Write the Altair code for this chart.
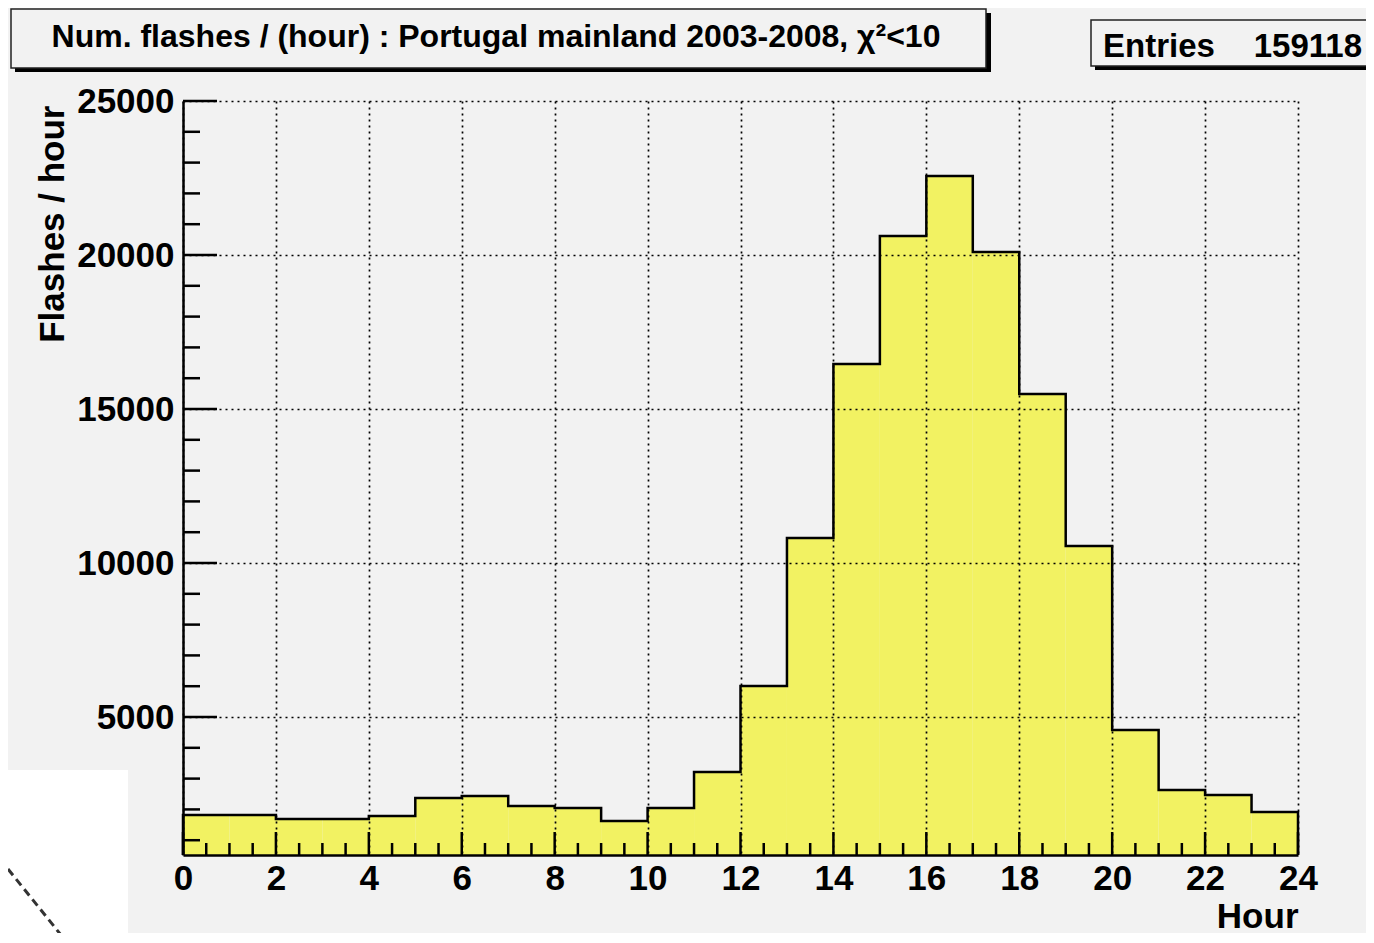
import altair as alt
import pandas as pd

# ---------------- data ----------------
hour_start = list(range(24))
flashes = [1818, 1818, 1690, 1690, 1786, 2370, 2435, 2110, 2045, 1623, 2045, 3214,
           6006, 10812, 16461, 20617, 22565, 20097, 15487, 10552, 4578, 2630, 2468, 1916]
x_major = list(range(0, 25, 2))
x_minor = [i * 0.5 for i in range(49) if i % 4 != 0]
y_major = [5000, 10000, 15000, 20000, 25000]
y_minor = [v for v in range(1000, 25001, 1000) if v % 5000 != 0]
Y_MIN = 520
Y_MAX = 25000
X_MIN = 0
X_MAX = 24
title_text = "Num. flashes / (hour) : Portugal mainland 2003-2008, χ²<10"
entries_label = "Entries"
entries_value = "159118"
x_title = "Hour"
y_title = "Flashes / hour"

# ---------------- style ----------------
W, H = 1115, 754
FONT = "Liberation Sans"
YELLOW = "#f2f262"
BG = "#f2f2f2"

bars = pd.DataFrame({
    "start": hour_start,
    "end": [h + 1 for h in hour_start],
    "value": flashes,
    "base": [Y_MIN] * len(flashes),
})

outline_x = [X_MIN] + hour_start + [X_MAX, X_MAX]
outline_y = [Y_MIN] + flashes + [flashes[-1], Y_MIN]
outline = pd.DataFrame({"x": outline_x, "y": outline_y, "i": list(range(len(outline_x)))})

xs = alt.Scale(domain=[X_MIN, X_MAX], nice=False, zero=False)
ys = alt.Scale(domain=[Y_MIN, Y_MAX], nice=False, zero=False)

x_axis = alt.Axis(values=x_major, format="d", title=x_title, ticks=False,
                  labelFont=FONT, labelFontSize=35, labelFontWeight="bold", labelColor="black",
                  labelPadding=6, labelFlush=False,
                  domainColor="black", domainWidth=2.5,
                  grid=True, gridColor="black", gridDash=[2, 4], gridWidth=1.7, gridOpacity=1,
                  titleFont=FONT, titleFontSize=35, titleFontWeight="bold", titleColor="black",
                  titleAnchor="end", titleAlign="right", titleBaseline="alphabetic",
                  titleX=W, titleY=72, zindex=1)
y_axis = alt.Axis(values=y_major, format="d", title=y_title, ticks=False,
                  labelFont=FONT, labelFontSize=35, labelFontWeight="bold", labelColor="black",
                  labelPadding=9, labelFlush=False,
                  domainColor="black", domainWidth=2.5,
                  grid=True, gridColor="black", gridDash=[2, 4], gridWidth=1.7, gridOpacity=1,
                  titleFont=FONT, titleFontSize=35, titleFontWeight="bold", titleColor="black",
                  titleAngle=270, titleAnchor="end", titleAlign="right", titleBaseline="alphabetic",
                  titleX=-120, titleY=4, zindex=1)

fill = alt.Chart(bars).mark_rect(fill=YELLOW).encode(
    x=alt.X("start:Q", scale=xs, axis=x_axis),
    x2="end:Q",
    y=alt.Y("value:Q", scale=ys, axis=y_axis),
    y2="base:Q",
)

line = alt.Chart(outline).mark_line(interpolate="step-after", color="black", strokeWidth=2.5).encode(
    x=alt.X("x:Q", scale=xs),
    y=alt.Y("y:Q", scale=ys),
    order="i:Q",
)

xmaj = alt.Chart(pd.DataFrame({"p": x_major})).mark_rule(color="black", strokeWidth=2.5).encode(
    x=alt.X("p:Q", scale=xs), y=alt.value(H), y2=alt.value(H - 23))
xmin = alt.Chart(pd.DataFrame({"p": x_minor})).mark_rule(color="black", strokeWidth=2.5).encode(
    x=alt.X("p:Q", scale=xs), y=alt.value(H), y2=alt.value(H - 12))
ymaj = alt.Chart(pd.DataFrame({"p": y_major})).mark_rule(color="black", strokeWidth=2.5).encode(
    y=alt.Y("p:Q", scale=ys), x=alt.value(0), x2=alt.value(34))
ymin = alt.Chart(pd.DataFrame({"p": y_minor})).mark_rule(color="black", strokeWidth=2.5).encode(
    y=alt.Y("p:Q", scale=ys), x=alt.value(0), x2=alt.value(17))

one = pd.DataFrame({"k": [0]})

def box(x1, x2, y1, y2, fill_color, stroke=None):
    kw = dict(fill=fill_color)
    if stroke:
        kw.update(stroke=stroke, strokeWidth=1.5)
    return alt.Chart(one).mark_rect(**kw).encode(
        x=alt.value(x1), x2=alt.value(x2), y=alt.value(y1), y2=alt.value(y2))

title_shadow = box(-168, 808, -88, -29, "black")
title_box = box(-172, 803, -92, -33, BG, "#222222")
title_txt = alt.Chart(one).mark_text(text=title_text, font=FONT, fontSize=32, fontWeight="bold",
                                     color="black", align="center", baseline="alphabetic").encode(
    x=alt.value(313), y=alt.value(-54))

ent_shadow = box(912, 1200, -77, -31, "black")
ent_box = box(908, 1200, -81, -35, BG, "#222222")
ent_lab = alt.Chart(one).mark_text(text=entries_label, font=FONT, fontSize=33, fontWeight="bold",
                                   color="black", align="left", baseline="alphabetic").encode(
    x=alt.value(920), y=alt.value(-44))
ent_val = alt.Chart(one).mark_text(text=entries_value, font=FONT, fontSize=33, fontWeight="bold",
                                   color="black", align="right", baseline="alphabetic").encode(
    x=alt.value(1179), y=alt.value(-44))

# stray white patch in the lower-left corner of the original picture
patch = box(-175, -55, 669, 834, "white")
patch_line = alt.Chart(one).mark_rule(color="#333333", strokeWidth=3, strokeDash=[8, 5]).encode(
    x=alt.value(-175), x2=alt.value(-122), y=alt.value(768), y2=alt.value(834))

chart = alt.layer(
    patch, patch_line,
    fill, line, xmaj, xmin, ymaj, ymin,
    title_shadow, title_box, title_txt,
    ent_shadow, ent_box, ent_lab, ent_val,
).properties(
    width=W, height=H,
    autosize=alt.AutoSizeParams(type="none"),
    padding={"left": 175, "top": 93, "right": 68, "bottom": 78},
).configure(background=BG).configure_view(strokeWidth=0)

chart.save("out.html", embed_options={"renderer": "svg", "actions": False})
